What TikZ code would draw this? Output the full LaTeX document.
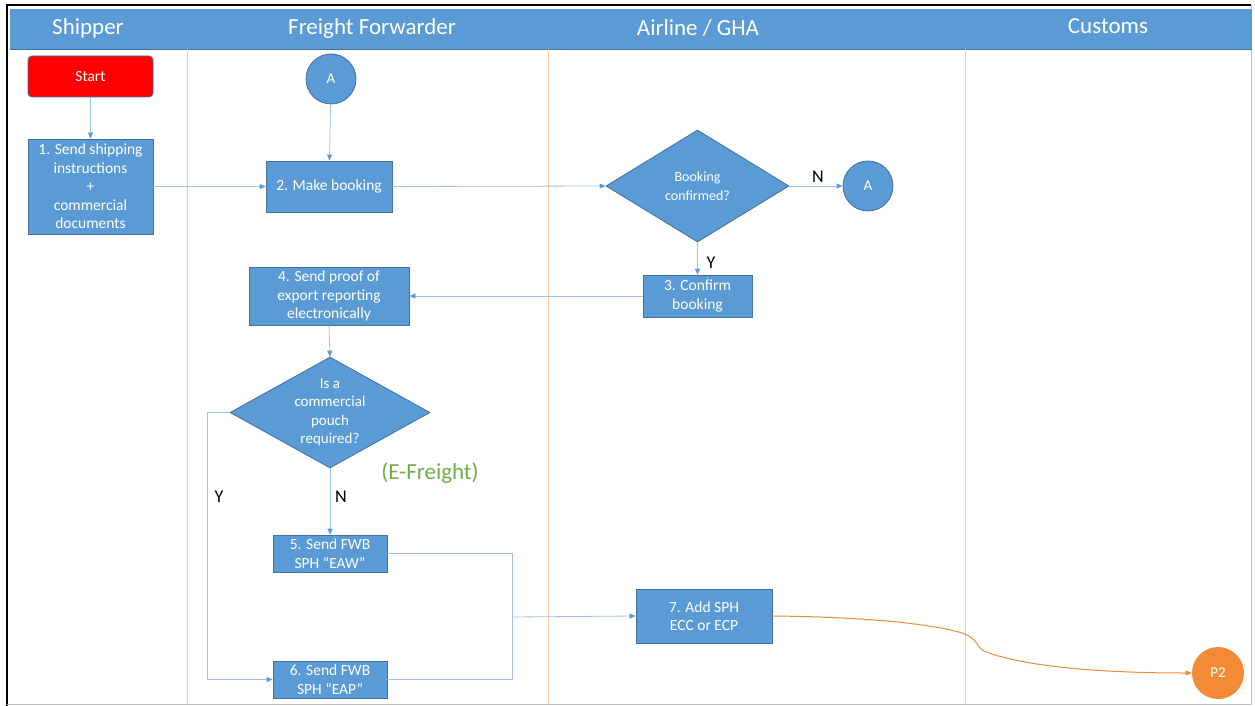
\documentclass[tikz,border=0pt]{standalone}
\usepackage{fontspec}
\setmainfont{Carlito}
\usetikzlibrary{shapes.geometric,arrows.meta}
\definecolor{boxblue}{HTML}{5B9BD5}
\definecolor{boxedge}{HTML}{41719C}
\definecolor{conn}{HTML}{9DC3E6}
\definecolor{tipblue}{HTML}{5B9BD5}
\definecolor{lane}{HTML}{F8CBAD}
\definecolor{redstart}{HTML}{FF0000}
\definecolor{orangeP}{HTML}{F58A36}
\definecolor{efgreen}{HTML}{70AD47}
\tikzset{
  procbox/.style={draw=boxedge, fill=boxblue, line width=0.8pt, text=white, align=center, inner sep=0pt,
    font=\fontsize{15.5}{18.5}\selectfont},
  dia/.style={diamond, draw=boxedge, fill=boxblue, line width=0.8pt, inner sep=0pt},
  diatext/.style={text=white, align=center, font=\fontsize{15}{18.5}\selectfont},
  conncircle/.style={circle, draw=boxedge, fill=boxblue, line width=0.8pt, text=white, inner sep=0pt,
    minimum size=50pt, font=\fontsize{15}{18}\selectfont},
  flow/.style={draw=conn, line width=0.8pt, -{Triangle[length=6pt,width=5pt,color=tipblue]}},
  flowplain/.style={draw=conn, line width=0.8pt},
  lanesep/.style={draw=lane, line width=1pt},
  yn/.style={font=\fontsize{18}{20}\selectfont, text=black},
  header/.style={text=white, font=\fontsize{23}{26}\selectfont},
}
\begin{document}
\begin{tikzpicture}[x=1pt,y=-1pt]
\useasboundingbox (0,0) rectangle (1255,706);
\fill[white] (0,0) rectangle (1255,706);
% outer frame
\draw[black, line width=1.6pt] (7,706) -- (7,5) -- (1251,5);
\draw[gray!50, line width=1pt] (1251,5) -- (1251,704) -- (7,704);
% header bar
\fill[boxblue] (10,9) rectangle (1252,49);
\draw[boxedge, line width=0.8pt] (10,49) -- (1252,49);
\node[header] (hship) at (88,28) {Shipper};
\node[header] (hff) at (372,28) {Freight Forwarder};
\node[header] (hair) at (698,28) {Airline / GHA};
\node[header] (hcus) at (1108,26) {Customs};
% lane separators
\draw[lanesep] (187,49) -- (187,704);
\draw[lanesep] (548,49) -- (548,704);
\draw[lanesep] (965,49) -- (965,704);
% nodes
\node[procbox, fill=redstart, rounded corners=4pt, minimum width=125pt, minimum height=41pt] (start) at (90.5,76.5) {Start};
\node[procbox, minimum width=125pt, minimum height=95pt] (b1) at (90.5,186.5) {1. Send shipping\\instructions\\+\\commercial\\documents};
\node[conncircle] (a1) at (331,79) {A};
\node[procbox, minimum width=126pt, minimum height=51pt] (b2) at (329,186.5) {2. Make booking};
\node[dia, minimum width=183pt, minimum height=112pt] (d1) at (697.5,186) {};
\node[diatext, font=\fontsize{14}{18.5}\selectfont] (d1t) at (d1) {Booking\\confirmed?};
\node[conncircle] (a2) at (868,186) {A};
\node[procbox, minimum width=109pt, minimum height=42pt] (b3) at (697.5,296) {3. Confirm\\booking};
\node[procbox, minimum width=160pt, minimum height=58pt] (b4) at (329,296) {4. Send proof of\\export reporting\\electronically};
\node[dia, minimum width=200pt, minimum height=111pt] (d2) at (330,412.5) {};
\node[diatext] (d2t) at (d2) {Is a\\commercial\\pouch\\required?};
\node[text=efgreen, font=\fontsize{23}{26}\selectfont] (ef) at (430,473) {(E-Freight)};
\node[procbox, minimum width=114pt, minimum height=37pt] (b5) at (330,553.5) {5. Send FWB\\SPH “EAW”};
\node[procbox, minimum width=114pt, minimum height=37pt] (b6) at (330,679.5) {6. Send FWB\\SPH “EAP”};
\node[procbox, minimum width=136pt, minimum height=54pt] (b7) at (704,616) {7. Add SPH\\ECC or ECP};
\node[circle, fill=orangeP, text=white, minimum size=52pt, inner sep=0pt, font=\fontsize{15}{18}\selectfont] (p2) at (1218,673) {P2};
% labels
\node[yn] (ln1) at (818,177) {N};
\node[yn] (ly1) at (711,263) {Y};
\node[yn] (ly2) at (219,497) {Y};
\node[yn] (ln2) at (341,497) {N};
% connectors
\draw[flow] (start) -- (b1);
\draw[flow] (b1.east) -- (b2.west);
\draw[flow] (a1) -- (b2);
\draw[flow] (b2.east) -- (d1.west);
\draw[flow] (d1.east) -- (a2.west);
\draw[flow] (d1.south) -- (b3.north);
\draw[flow] (b3.west) -- (b4.east);
\draw[flow] (b4.south) -- (d2.north);
\draw[flow] (d2.south) -- (b5.north);
\draw[flow] (d2.west) -- (207,412.5) |- (b6.west);
\coordinate (join) at (512,617);
\draw[flowplain] (b5.east) -| (join);
\draw[flowplain] (b6.east) -| (join);
\draw[flow] (join) -- (b7.west);
\draw[draw=orangeP, line width=1pt, -{Triangle[length=6pt,width=5pt]}] (b7.east) .. controls (880,617) and (940,626) .. (962,633) .. controls (980,639) and (975,648) .. (986,652) .. controls (1030,668) and (1110,673) .. (p2.west);
\end{tikzpicture}
\end{document}
